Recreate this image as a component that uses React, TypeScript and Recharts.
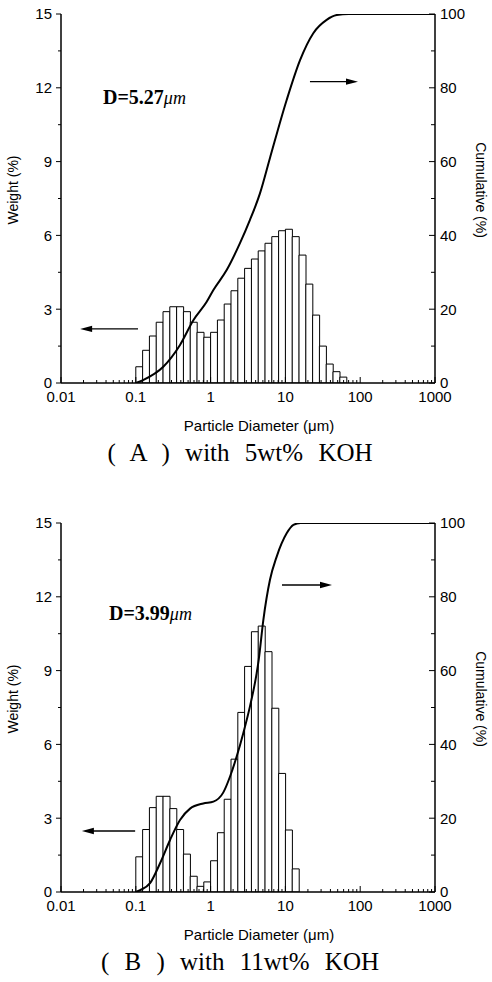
import React from 'react';
import { ComposedChart, Bar, Line, XAxis, YAxis, ReferenceLine } from 'recharts';

// bin centres of the size analyser (µm), log spaced
const binDiameters = [
  0.111, 0.1369, 0.1688, 0.2081, 0.2566, 0.3162, 0.3899, 0.4807, 0.5926, 0.7305, 0.9006,
  1.110, 1.369, 1.688, 2.081, 2.566, 3.162, 3.899, 4.807, 5.926, 7.305, 9.006,
  11.10, 13.69, 16.88, 20.81, 25.66, 31.62, 38.99, 48.07, 59.26,
];

// weight (%) per bin
const weightA = [
  0.66, 1.33, 1.91, 2.47, 2.9, 3.1, 3.1, 2.9, 2.47, 2.06, 1.86,
  2.06, 2.56, 3.21, 3.75, 4.26, 4.66, 5.04, 5.37, 5.68, 5.95, 6.19,
  6.25, 5.95, 5.2, 4.02, 2.76, 1.5, 0.77, 0.46, 0.24,
];
const weightB = [
  1.43, 2.54, 3.43, 3.89, 3.89, 3.39, 2.54, 1.54, 0.64, 0.23, 0.41,
  1.27, 2.41, 3.77, 5.4, 7.3, 9.17, 10.58, 10.81, 9.77, 7.47, 4.82,
  2.52, 0.94,
];

// cumulative curves
const cumDiamA = [0.1, 0.125, 0.233, 0.39, 0.588, 0.887, 1.09, 1.64, 2.47, 3.36, 4.57, 6.22, 10.4, 15.7, 23.6, 35.6, 48.5, 70, 1000];
const cumA = [0, 0.8, 4.4, 10.3, 17, 22, 25.2, 30.6, 37.9, 44.2, 51.4, 61, 76.7, 87.5, 94.8, 98.4, 99.7, 100, 100];
const cumDiamB = [0.1, 0.114, 0.155, 0.211, 0.287, 0.39, 0.531, 0.798, 1.09, 1.48, 1.82, 2.23, 2.74, 3.36, 4.13, 4.4, 5.07, 6.22, 7.65, 10.4, 12.8, 16, 1000];
const cumB = [0, 0.5, 2.4, 7.8, 14.1, 19.5, 22.6, 24.0, 24.5, 27.0, 31.3, 36.7, 43.1, 50.3, 59.3, 63, 73.7, 84.6, 90.9, 97.2, 99.5, 100, 100];

const xMajor = [0.01, 0.1, 1, 10, 100, 1000];
const xMinorSteps = [2, 3, 4, 5, 6, 7, 8, 9];
const weightTicks = [0, 3, 6, 9, 12, 15];
const weightMinor = [1.5, 4.5, 7.5, 10.5, 13.5];
const cumTicks = [0, 20, 40, 60, 80, 100];
const cumMinor = [10, 30, 50, 70, 90];

const xTicks = [
  ...xMajor,
  ...xMajor.slice(0, -1).flatMap((d) => xMinorSteps.map((m) => +(d * m).toPrecision(3))),
].sort((a, b) => a - b);
const leftTicks = [...weightTicks, ...weightMinor].sort((a, b) => a - b);
const rightTicks = [...cumTicks, ...cumMinor].sort((a, b) => a - b);

const SANS = '"Liberation Sans", Arial, sans-serif';
const SERIF = '"Liberation Serif", "Times New Roman", serif';
const W = 492;
const H = 473;

const BottomTick = (p: any) => {
  const { x, y, payload } = p;
  const major = xMajor.includes(payload.value);
  return (
    <g>
      <line x1={x} x2={x} y1={y} y2={y - (major ? 6 : 3)} stroke="#000" strokeWidth={1} />
      {major && (
        <text x={x} y={y + 19} textAnchor="middle" fontFamily={SANS} fontSize={15} fill="#000">
          {String(payload.value)}
        </text>
      )}
    </g>
  );
};

const TopTick = (p: any) => {
  const { x, y, payload } = p;
  const major = xMajor.includes(payload.value);
  return <line x1={x} x2={x} y1={y} y2={y + (major ? 6 : 3)} stroke="#000" strokeWidth={1} />;
};

const LeftTick = (p: any) => {
  const { x, y, payload } = p;
  const major = weightTicks.includes(payload.value);
  return (
    <g>
      <line x1={x} x2={x - (major ? 5 : 3)} y1={y} y2={y} stroke="#000" strokeWidth={1} />
      {major && (
        <text x={x - 9} y={y} dy="0.36em" textAnchor="end" fontFamily={SANS} fontSize={15} fill="#000">
          {payload.value}
        </text>
      )}
    </g>
  );
};

const RightTick = (p: any) => {
  const { x, y, payload } = p;
  const major = cumTicks.includes(payload.value);
  return (
    <g>
      <line x1={x} x2={x - (major ? 6 : 4)} y1={y} y2={y} stroke="#000" strokeWidth={1} />
      {major && (
        <text x={x + 5} y={y} dy="0.36em" textAnchor="start" fontFamily={SANS} fontSize={15} fill="#000">
          {payload.value}
        </text>
      )}
    </g>
  );
};

const Arrow = (p: any) => {
  const { x1, y1, x2, y2 } = p;
  const dir = x2 > x1 ? 1 : -1;
  return (
    <g>
      <line x1={x1} y1={y1} x2={x2 - dir * 6} y2={y2} stroke="#000" strokeWidth={1.3} />
      <polygon points={`${x2},${y2} ${x2 - dir * 12},${y2 - 3.2} ${x2 - dir * 12},${y2 + 3.2}`} fill="#000" />
    </g>
  );
};

type PanelProps = {
  top: number;
  weights: number[];
  cumD: number[];
  cum: number[];
  dLabel: string;
  dPos: [number, number];
  caption: string;
  rightArrow: [number, number, number];
  leftArrow: [number, number, number];
};

const axisLine = { stroke: '#000', strokeWidth: 1.5 };

function Panel({ top, weights, cumD, cum, dLabel, dPos, caption, rightArrow, leftArrow }: PanelProps) {
  const bins = weights.map((w, i) => ({ d: binDiameters[i], w }));
  const cumData = cumD.map((d, i) => ({ d, c: cum[i] }));
  return (
    <div style={{ position: 'absolute', left: 0, top, width: W, height: H }}>
      <ComposedChart
        width={W}
        height={H}
        data={bins}
        margin={{ top: 14, right: 12, bottom: 60, left: 16 }}
        barCategoryGap={0}
        barGap={0}
      >
        <XAxis
          xAxisId="main"
          dataKey="d"
          type="number"
          scale="log"
          domain={[0.01, 1000]}
          allowDataOverflow
          ticks={xTicks}
          interval={0}
          tick={BottomTick}
          tickLine={false}
          tickSize={0}
          tickMargin={0}
          height={30}
          axisLine={axisLine}
        />
        <XAxis
          xAxisId="bins"
          dataKey="d"
          type="number"
          scale="log"
          domain={[0.01, 1000]}
          allowDataOverflow
          height={0}
          hide
        />
        <XAxis
          xAxisId="top"
          orientation="top"
          dataKey="d"
          type="number"
          scale="log"
          domain={[0.01, 1000]}
          allowDataOverflow
          ticks={xTicks}
          interval={0}
          tick={TopTick}
          tickLine={false}
          tickSize={0}
          tickMargin={0}
          height={0}
          axisLine={axisLine}
        />
        <YAxis
          yAxisId="w"
          type="number"
          domain={[0, 15]}
          allowDataOverflow
          ticks={leftTicks}
          interval={0}
          tick={LeftTick}
          tickLine={false}
          tickSize={0}
          tickMargin={0}
          width={45}
          axisLine={axisLine}
        />
        <YAxis
          yAxisId="c"
          orientation="right"
          type="number"
          domain={[0, 100]}
          allowDataOverflow
          ticks={rightTicks}
          interval={0}
          tick={RightTick}
          tickLine={false}
          tickSize={0}
          tickMargin={0}
          width={45}
          axisLine={axisLine}
        />
        <Bar
          xAxisId="bins"
          yAxisId="w"
          dataKey="w"
          fill="#fff"
          stroke="#000"
          strokeWidth={1}
          isAnimationActive={false}
        />
        <Line
          xAxisId="main"
          yAxisId="c"
          data={cumData}
          dataKey="c"
          type="monotone"
          dot={false}
          activeDot={false}
          stroke="#000"
          strokeWidth={2}
          isAnimationActive={false}
        />
        <ReferenceLine
          xAxisId="main"
          yAxisId="w"
          segment={[{ x: rightArrow[0], y: rightArrow[2] }, { x: rightArrow[1], y: rightArrow[2] }]}
          shape={Arrow}
        />
        <ReferenceLine
          xAxisId="main"
          yAxisId="w"
          segment={[{ x: leftArrow[0], y: leftArrow[2] }, { x: leftArrow[1], y: leftArrow[2] }]}
          shape={Arrow}
        />
        <text x={dPos[0]} y={dPos[1]} fontFamily={SERIF} fontWeight="bold" fontSize={20} fill="#000">
          {dLabel}
          <tspan fontStyle="italic" fontWeight="normal" fontSize={18}>μm</tspan>
        </text>
        <text
          x={13}
          y={190}
          transform="rotate(-90 13 190)"
          textAnchor="middle"
          dy="0.35em"
          fontFamily={SANS}
          fontSize={14}
          fill="#000"
        >
          Weight (%)
        </text>
        <text
          x={481}
          y={190}
          transform="rotate(90 481 190)"
          textAnchor="middle"
          dy="0.35em"
          fontFamily={SANS}
          fontSize={14}
          fill="#000"
        >
          Cumulative (%)
        </text>
        <text x={259} y={431} textAnchor="middle" fontFamily={SANS} fontSize={15} fill="#000">
          Particle Diameter (μm)
        </text>
        <text
          x={240}
          y={461}
          textAnchor="middle"
          fontFamily={SERIF}
          fontSize={25}
          fill="#000"
          style={{ wordSpacing: 9 }}
        >
          {caption}
        </text>
      </ComposedChart>
    </div>
  );
}

export default function App() {
  return (
    <div style={{ position: 'absolute', left: 0, top: 0, width: W, height: 982, background: '#fff' }}>
      <Panel
        top={0}
        weights={weightA}
        cumD={cumDiamA}
        cum={cumA}
        dLabel="D=5.27"
        dPos={[103, 104]}
        caption="( A ) with 5wt% KOH"
        rightArrow={[21.3, 93.5, 12.25]}
        leftArrow={[0.107, 0.018, 2.2]}
      />
      <Panel
        top={509}
        weights={weightB}
        cumD={cumDiamB}
        cum={cumB}
        dLabel="D=3.99"
        dPos={[109, 111]}
        caption="( B ) with 11wt% KOH"
        rightArrow={[9.0, 42, 12.48]}
        leftArrow={[0.098, 0.019, 2.48]}
      />
    </div>
  );
}
